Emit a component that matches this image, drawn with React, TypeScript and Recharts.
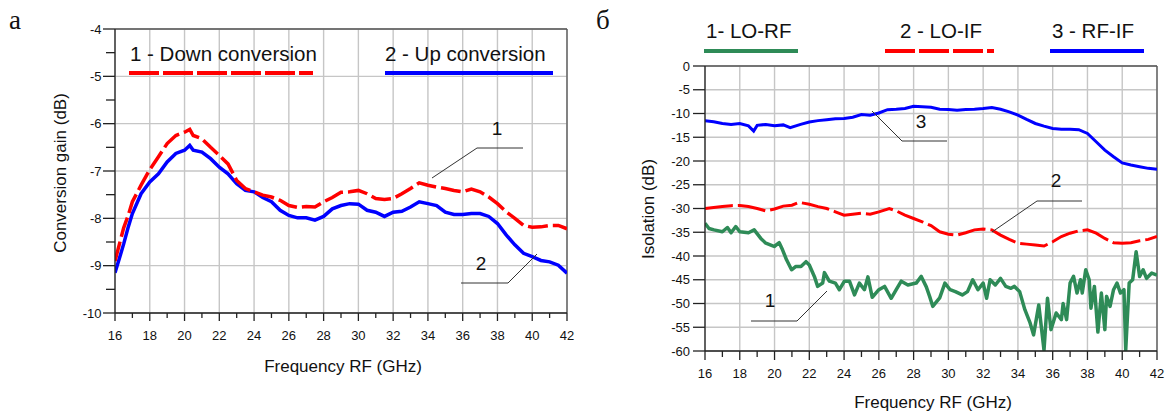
import React from "react";
import { LineChart, Line, XAxis, YAxis, CartesianGrid, ReferenceLine } from "recharts";

// ---- chart "а": conversion gain vs RF frequency ----
const gainFreq = [
  16, 16.25, 16.5, 16.75, 17, 17.5, 18, 18.5, 19, 19.5, 20, 20.3, 20.5, 21, 21.5, 22, 22.5, 23, 23.5, 24,
  24.5, 25, 25.5, 26, 26.5, 27, 27.5, 28, 28.5, 29, 29.5, 30, 30.5, 31, 31.5, 32, 32.5, 33, 33.5, 34, 34.5,
  35, 35.5, 36, 36.5, 37, 37.5, 38, 38.5, 39, 39.5, 40, 40.5, 41, 41.5, 42,
];
// 1 - Down conversion
const downGain = [
  -8.9, -8.55, -8.2, -7.95, -7.65, -7.3, -6.97, -6.7, -6.42, -6.25, -6.18, -6.12,
  -6.25, -6.32, -6.5, -6.67, -6.85, -7.2, -7.37, -7.44, -7.51, -7.55,
  -7.62, -7.73, -7.77, -7.75, -7.76, -7.65, -7.56, -7.45, -7.44, -7.41,
  -7.48, -7.58, -7.6, -7.58, -7.48, -7.37, -7.25, -7.3, -7.34, -7.37,
  -7.41, -7.44, -7.38, -7.44, -7.55, -7.69, -7.86, -8.0, -8.15, -8.19,
  -8.18, -8.15, -8.15, -8.22,
];
// 2 - Up conversion
const upGain = [
  -9.15, -8.85, -8.54, -8.2, -7.9, -7.48, -7.23, -7.06, -6.81, -6.63, -6.56, -6.46,
  -6.56, -6.6, -6.74, -6.92, -7.06, -7.27, -7.41, -7.44, -7.56, -7.65,
  -7.83, -7.94, -7.99, -7.99, -8.04, -7.96, -7.8, -7.73, -7.69, -7.7,
  -7.83, -7.87, -7.96, -7.87, -7.85, -7.76, -7.65, -7.69, -7.73, -7.87,
  -7.92, -7.92, -7.9, -7.9, -7.96, -8.11, -8.35, -8.56, -8.74, -8.81,
  -8.89, -8.92, -8.99, -9.16,
];

// ---- chart "б": isolation vs RF frequency ----
// 1 - LO-RF
const loRfFreq = [
  16.0, 16.23, 16.52, 17.0, 17.29, 17.5, 17.77, 18.0, 18.5, 18.83, 19.02, 19.21, 19.5, 19.79, 19.98, 20.27,
  20.46, 20.69, 20.98, 21.23, 21.52, 21.81, 22.0, 22.29, 22.48, 22.77, 22.87, 23.15, 23.5, 23.73, 24.02,
  24.31, 24.6, 24.88, 25.17, 25.37, 25.62, 26.0, 26.33, 26.71, 27.0, 27.29, 27.67, 28.15, 28.44, 28.73,
  28.92, 29.1, 29.5, 29.8, 30.1, 30.4, 30.8, 31.1, 31.4, 31.7, 32.0, 32.2, 32.4, 32.7, 33.0, 33.3, 33.6,
  33.8, 34.1, 34.4, 34.7, 34.9, 35.2, 35.5, 35.7, 35.9, 36.2, 36.5, 36.6, 36.8, 37.0, 37.2, 37.4, 37.6,
  37.7, 37.9, 38.1, 38.2, 38.4, 38.6, 38.8, 39.0, 39.1, 39.3, 39.5, 39.7, 39.9, 40.1, 40.2, 40.4, 40.6,
  40.8, 41.0, 41.2, 41.4, 41.7, 42.0,
];
const loRfIso = [
  -33.1, -34.2, -34.5, -34.9, -34.0, -35.1, -33.8, -34.9, -35.1, -34.5, -35.4, -36.3, -37.3, -37.7, -38.0, -37.2,
  -38.7, -40.8, -42.9, -42.2, -42.2, -41.2, -41.9, -44.3, -46.4, -45.7, -43.5, -45.3, -45.7, -47.1, -45.3,
  -45.3, -48.2, -45.7, -47.1, -44.4, -48.7, -47.1, -46.4, -48.9, -47.1, -45.3, -46.1, -45.7, -44.3, -46.5,
  -48.5, -50.6, -48.8, -45.7, -47.1, -47.5, -48.2, -47.5, -45.0, -47.1, -45.7, -48.9, -45.0, -46.1, -44.7, -46.4, -46.8,
  -46.4, -47.5, -51.3, -54.1, -56.6, -50.3, -59.8, -48.9, -55.5, -52.0, -53.4, -50.0, -53.4, -45.7, -44.3, -47.8, -45.0,
  -47.8, -42.9, -45.0, -51.0, -46.4, -56.0, -47.8, -55.5, -48.5, -50.6, -47.1, -45.7, -47.8, -47.1, -59.8, -45.7, -45.0,
  -39.1, -44.3, -42.9, -44.7, -43.6, -44.0,
];
// 2 - LO-IF
const loIfFreq = [
  16, 16.5, 17, 17.5, 18, 18.5, 19, 19.5, 20, 20.5, 21, 21.4, 22, 22.5, 23, 23.5, 24, 24.5, 25, 25.5, 26, 26.6,
  27, 27.5, 28, 28.5, 29, 29.5, 30, 30.5, 31, 31.5, 32, 32.5, 33, 33.5, 34, 34.5, 35, 35.5, 36, 36.5, 37,
  37.5, 38, 38.5, 39, 39.5, 40, 40.5, 41, 41.5, 42,
];
const loIfIso = [
  -30.0, -29.8, -29.6, -29.4, -29.35, -29.6, -30.0, -30.5, -30.1, -29.5, -29.3, -28.7, -29.1, -29.6, -30.0, -30.7,
  -31.4, -31.2, -31.0, -31.2, -30.7, -30.0,
  -30.5, -31.4, -32.1, -32.8, -33.6, -34.9, -35.4, -35.6, -35.1, -34.5, -34.3, -34.5, -35.6, -36.5, -37.3, -37.5,
  -37.7, -37.9, -37.0, -35.9, -35.2, -34.7, -34.5, -35.2, -36.3, -37.2, -37.3, -37.2, -36.8, -36.5, -35.9,
];
// 3 - RF-IF
const rfIfFreq = [
  16, 16.5, 17, 17.5, 18, 18.5, 18.8, 19, 19.5, 20, 20.5, 20.9, 21.5, 22, 22.5, 23, 23.5, 24, 24.5, 25, 25.5,
  26, 26.5, 27, 27.5, 28, 28.5, 29, 29.5, 30, 30.5, 31, 31.5, 32, 32.5, 33, 33.5, 34, 34.5, 35, 35.5, 36,
  36.5, 37, 37.5, 38, 38.5, 39, 39.5, 40, 40.5, 41, 41.5, 42,
];
const rfIfIso = [
  -11.5, -11.75, -12.1, -12.3, -12.1, -12.6, -13.7, -12.5, -12.3, -12.6, -12.4, -13.0, -12.3,
  -11.8, -11.5, -11.3, -11.1, -11.05, -10.8, -10.2, -10.35, -9.9, -9.2, -9.1, -8.95, -8.5, -8.6, -8.7,
  -9.1, -9.15, -9.3, -9.15, -9.1, -8.95, -8.75, -9.1, -9.65, -10.35, -11.25, -12.1, -12.65, -13.15,
  -13.3, -13.3, -13.4, -14.2, -15.95, -17.7, -19.1, -20.4, -20.85, -21.2, -21.55, -21.75,
];

// axis ticks
const freqTicks = [16, 17, 18, 19, 20, 21, 22, 23, 24, 25, 26, 27, 28, 29, 30, 31, 32, 33, 34, 35, 36, 37, 38, 39, 40, 41, 42];
const freqGrid = [16, 18, 20, 22, 24, 26, 28, 30, 32, 34, 36, 38, 40, 42];
const gainTicks = [-10, -9.5, -9, -8.5, -8, -7.5, -7, -6.5, -6, -5.5, -5, -4.5, -4];
const gainGrid = [-10, -9, -8, -7, -6, -5, -4];
const isoTicks = [-60, -55, -50, -45, -40, -35, -30, -25, -20, -15, -10, -5, 0];

const zip = (xs: number[], ys: number[]) => xs.map((f, i) => ({ f, v: ys[i] }));

const SANS = "'Liberation Sans', Arial, sans-serif";
const SERIF = "'Liberation Serif', 'Times New Roman', serif";
const AXIS = "#222";
const GRID = "#c6c6c6";

const RED = "#ff0000";
const BLUE = "#0000ff";
const GREEN = "#2e8b57";

// x tick: tickSize 8 + tickMargin 9 => tick label y is 17px below the axis
const makeXTick = (majorLen: number, minorLen: number) => (props: any) => {
  const { x, y, payload } = props;
  const v = payload.value;
  const major = v % 2 === 0;
  const axisY = y - 17;
  return (
    <g>
      <line x1={x} x2={x} y1={axisY} y2={axisY + (major ? majorLen : minorLen)} stroke={AXIS} strokeWidth={1.3} />
      {major && (
        <text x={x} y={axisY + 27} textAnchor="middle" fontSize={13} fontFamily={SANS} fill="#111">
          {v}
        </text>
      )}
    </g>
  );
};

const GainTick = (props: any) => {
  const { x, y, payload } = props;
  const v = payload.value;
  const major = Number.isInteger(v);
  const axisX = x + 14;
  return (
    <g>
      <line x1={axisX - (major ? 12 : 9)} x2={axisX} y1={y} y2={y} stroke={AXIS} strokeWidth={1.3} />
      {major && (
        <text x={axisX - 13.5} y={y + 4.6} textAnchor="end" fontSize={13} fontFamily={SANS} fill="#111">
          {v}
        </text>
      )}
    </g>
  );
};

const IsoTick = (props: any) => {
  const { x, y, payload } = props;
  const v = payload.value;
  const axisX = x + 15;
  return (
    <g>
      <line x1={axisX - 12} x2={axisX} y1={y} y2={y} stroke={AXIS} strokeWidth={1.3} />
      <text x={axisX - 15} y={y + 4.6} textAnchor="end" fontSize={13} fontFamily={SANS} fill="#111">
        {v}
      </text>
    </g>
  );
};

const GainXTick = makeXTick(8, 5);
const IsoXTick = makeXTick(9, 6);

function GainChart() {
  return (
    <LineChart
      width={583}
      height={413}
      margin={{ top: 29, right: 16, bottom: 0, left: 0 }}
      style={{ position: "absolute", left: 0, top: 0 }}
    >
      <CartesianGrid stroke={GRID} strokeWidth={1.4} horizontalValues={gainGrid} verticalValues={freqGrid} />
      <XAxis
        type="number"
        dataKey="f"
        domain={[16, 42]}
        ticks={freqTicks}
        interval={0}
        allowDataOverflow
        height={100}
        tickSize={8}
        tickMargin={9}
        tickLine={false}
        tick={<GainXTick />}
        axisLine={{ stroke: AXIS, strokeWidth: 1.3 }}
      />
      <YAxis
        type="number"
        domain={[-10, -4]}
        ticks={gainTicks}
        interval={0}
        allowDataOverflow
        width={115}
        tickSize={12}
        tickMargin={2}
        tickLine={false}
        tick={<GainTick />}
        axisLine={{ stroke: AXIS, strokeWidth: 1.3 }}
      />
      <ReferenceLine y={-4} stroke="#555" strokeWidth={1.3} />
      <ReferenceLine x={42} stroke="#555" strokeWidth={1.3} />
      <Line
        data={zip(gainFreq, upGain)}
        dataKey="v"
        type="linear"
        stroke={BLUE}
        strokeWidth={3.5}
        dot={false}
        isAnimationActive={false}
      />
      <Line
        data={zip(gainFreq, downGain)}
        dataKey="v"
        type="linear"
        stroke={RED}
        strokeWidth={3.5}
        strokeDasharray="20 5"
        dot={false}
        isAnimationActive={false}
      />
    </LineChart>
  );
}

function IsolationChart() {
  return (
    <LineChart
      width={583}
      height={413}
      margin={{ top: 66, right: 9, bottom: 0, left: 0 }}
      style={{ position: "absolute", left: 583, top: 0 }}
    >
      <CartesianGrid stroke={GRID} strokeWidth={1.4} horizontalValues={isoTicks} verticalValues={freqGrid} />
      <XAxis
        type="number"
        dataKey="f"
        domain={[16, 42]}
        ticks={freqTicks}
        interval={0}
        allowDataOverflow
        height={62}
        tickSize={8}
        tickMargin={9}
        tickLine={false}
        tick={<IsoXTick />}
        axisLine={{ stroke: AXIS, strokeWidth: 1.3 }}
      />
      <YAxis
        type="number"
        domain={[-60, 0]}
        ticks={isoTicks}
        interval={0}
        allowDataOverflow
        width={122}
        tickSize={12}
        tickMargin={3}
        tickLine={false}
        tick={<IsoTick />}
        axisLine={{ stroke: AXIS, strokeWidth: 1.3 }}
      />
      <ReferenceLine y={0} stroke="#555" strokeWidth={1.3} />
      <ReferenceLine x={42} stroke="#555" strokeWidth={1.3} />
      <Line
        data={zip(rfIfFreq, rfIfIso)}
        dataKey="v"
        type="linear"
        stroke={BLUE}
        strokeWidth={3}
        dot={false}
        isAnimationActive={false}
      />
      <Line
        data={zip(loIfFreq, loIfIso)}
        dataKey="v"
        type="linear"
        stroke={RED}
        strokeWidth={3}
        strokeDasharray="28 5"
        dot={false}
        isAnimationActive={false}
      />
      <Line
        data={zip(loRfFreq, loRfIso)}
        dataKey="v"
        type="linear"
        stroke={GREEN}
        strokeWidth={3.5}
        strokeLinejoin="round"
        dot={false}
        isAnimationActive={false}
      />
    </LineChart>
  );
}

// legends, axis titles, panel letters and leader lines
function Overlay() {
  const leader = { stroke: "#333", strokeWidth: 1, fill: "none" };
  return (
    <svg
      width={1166}
      height={413}
      style={{ position: "absolute", left: 0, top: 0, pointerEvents: "none" }}
      fontFamily={SANS}
    >
      {/* panel а */}
      <text x={9} y={29} fontFamily={SERIF} fontSize={27} fill="#111">а</text>
      <text x={130} y={61} fontSize={20.5} fill="#111">1 - Down conversion</text>
      <line x1={129} x2={313} y1={73} y2={73} stroke={RED} strokeWidth={4} strokeDasharray="30 4" />
      <text x={385} y={61} fontSize={20.5} fill="#111">2 - Up conversion</text>
      <line x1={385} x2={553} y1={73} y2={73} stroke={BLUE} strokeWidth={4} />
      <text x={343} y={372} textAnchor="middle" fontSize={17} fill="#111">Frequency RF (GHz)</text>
      <text x={0} y={0} transform="translate(66 173) rotate(-90)" textAnchor="middle" fontSize={17} fill="#111">
        Conversion gain (dB)
      </text>
      <polyline points="432,178 477,148 523,148" {...leader} />
      <text x={497} y={135} textAnchor="middle" fontSize={19} fill="#111">1</text>
      <polyline points="537,254 508,283 461,283" {...leader} />
      <text x={481} y={270} textAnchor="middle" fontSize={19} fill="#111">2</text>

      {/* panel б */}
      <text x={596} y={29} fontFamily={SERIF} fontSize={27} fill="#111">б</text>
      <text x={706} y={38} fontSize={20.5} fill="#111">1- LO-RF</text>
      <line x1={704} x2={798} y1={51} y2={51} stroke={GREEN} strokeWidth={4} />
      <text x={900} y={38} fontSize={20.5} fill="#111">2 - LO-IF</text>
      <line x1={885} x2={994} y1={51} y2={51} stroke={RED} strokeWidth={4} strokeDasharray="30 4" />
      <text x={1052} y={38} fontSize={20.5} fill="#111">3 - RF-IF</text>
      <line x1={1050} x2={1144} y1={51} y2={51} stroke={BLUE} strokeWidth={4} />
      <text x={933} y={408} textAnchor="middle" fontSize={17} fill="#111">Frequency RF (GHz)</text>
      <text x={0} y={0} transform="translate(654 209) rotate(-90)" textAnchor="middle" fontSize={17} fill="#111">
        Isolation (dB)
      </text>
      <polyline points="872,111 902,141 947,141" {...leader} />
      <text x={921} y={128} textAnchor="middle" fontSize={19} fill="#111">3</text>
      <polyline points="992,232 1037,201 1082,201" {...leader} />
      <text x={1056} y={187} textAnchor="middle" fontSize={19} fill="#111">2</text>
      <polyline points="827,291 797,321 751,321" {...leader} />
      <text x={770} y={307} textAnchor="middle" fontSize={19} fill="#111">1</text>
    </svg>
  );
}

export default function App() {
  return (
    <div style={{ position: "absolute", left: 0, top: 0, width: 1166, height: 413, background: "#fff" }}>
      <GainChart />
      <IsolationChart />
      <Overlay />
    </div>
  );
}
